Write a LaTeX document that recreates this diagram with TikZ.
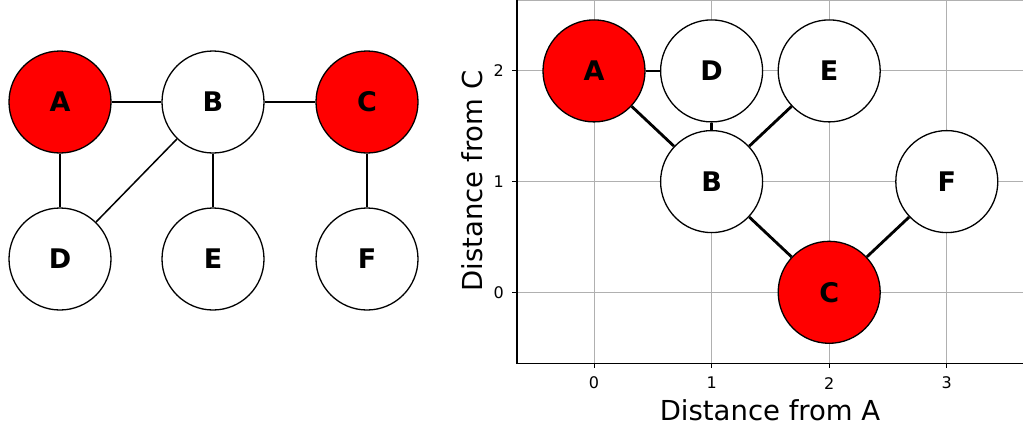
\documentclass[tikz,border=0pt]{standalone}
\usepackage{fontspec}
\setmainfont{DejaVu Sans}
\usepackage{tikz}
\begin{document}
\begin{tikzpicture}[x=1pt, y=-1pt,
	vertex/.style={circle, draw, line width=1.3pt, fill=white, minimum size=102pt, inner sep=0, font=\fontsize{27}{30}\selectfont\bfseries},
	hot/.style={vertex, fill=red},
	link/.style={line width=1.5pt},
	boldlink/.style={line width=2.8pt},
	gridline/.style={draw=black!31, line width=1pt},
	ticklabel/.style={font=\fontsize{16}{19}\selectfont, inner sep=0},
	axislabel/.style={font=\fontsize{27.5}{31}\selectfont, inner sep=0}
]
\useasboundingbox (0,0) rectangle (1023,429);
% left: the graph
\node[hot] (a) at (60,102) {A};
\node[vertex] (b) at (213,102) {B};
\node[hot] (c) at (367,102) {C};
\node[vertex] (d) at (60,259) {D};
\node[vertex] (e) at (213,259) {E};
\node[vertex] (f) at (367,259) {F};
\draw[link] (a) -- (b);
\draw[link] (b) -- (c);
\draw[link] (a) -- (d);
\draw[link] (b) -- (d);
\draw[link] (b) -- (e);
\draw[link] (c) -- (f);
% right: distances plot
\draw[gridline] (517,0.5) -- (1023,0.5);
\begin{scope}[shift={(594,292.3)}, x=117.6pt, y=110.7pt]
\foreach \i in {0,...,3}
	\draw[gridline] (\i,-0.64) -- (\i,2.64);
\foreach \j in {0,...,2}
	\draw[gridline] (-0.655,\j) -- (3.65,\j);
\draw[line width=1.2pt] (-0.655,2.64) -- (-0.655,-0.64) -- (3.65,-0.64);
\foreach \i in {0,...,3} {
	\draw[line width=1pt] (\i,-0.64) -- ++(0pt,-5pt);
	\node[ticklabel] (xt\i) at (\i,-0.82) {\i};
}
\foreach \j in {0,...,2} {
	\draw[line width=1pt] (-0.655,\j) -- ++(-5pt,0pt);
	\node[ticklabel] (yt\j) at (-0.81,\j) {\j};
}
\node[axislabel] (xlab) at (1.497,-1.063) {Distance from A};
\node[axislabel, rotate=90] (ylab) at (-1.037,1.005) {Distance from C};
\node[hot] (ra) at (0,2) {A};
\node[vertex] (rd) at (1,2) {D};
\node[vertex] (re) at (2,2) {E};
\node[vertex] (rb) at (1,1) {B};
\node[vertex] (rf) at (3,1) {F};
\node[hot] (rc) at (2,0) {C};
\draw[boldlink] (ra) -- (rb);
\draw[boldlink] (ra) -- (rd);
\draw[boldlink] (rb) -- (rd);
\draw[boldlink] (rb) -- (re);
\draw[boldlink] (rb) -- (rc);
\draw[boldlink] (rc) -- (rf);
\end{scope}
\end{tikzpicture}
\end{document}
